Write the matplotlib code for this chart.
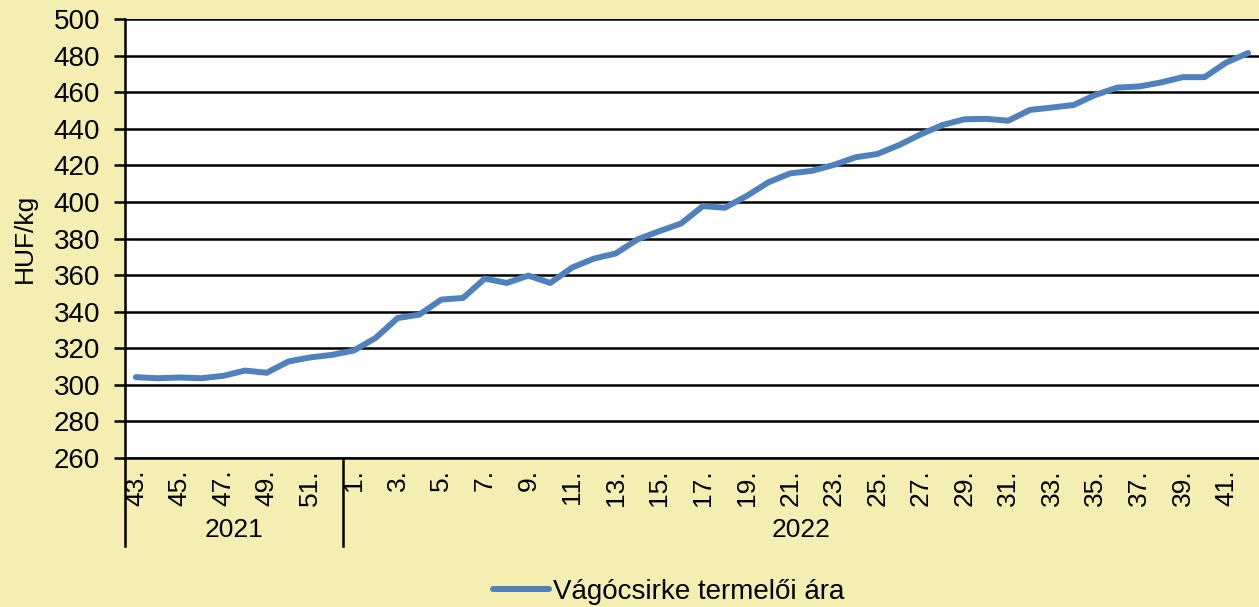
import numpy as np
import matplotlib
matplotlib.use("Agg")
import matplotlib.pyplot as plt

plt.rcParams['font.family'] = ['Liberation Sans', 'DejaVu Sans']

years = ["2021", "2022"]
weeks_2021 = list(range(43, 53))
weeks_2022 = list(range(1, 43))
price_2021 = [304.2, 303.6, 304.0, 303.6, 304.9, 307.8, 306.6, 312.8, 315.0, 316.4]
price_2022 = [318.8, 325.7, 336.5, 338.4, 346.6, 347.5, 358.1, 355.7, 359.7, 355.7,
              364.1, 369.0, 371.8, 379.5, 384.0, 388.2, 397.7, 396.8, 403.2, 410.7,
              415.6, 417.0, 420.2, 424.4, 426.2, 431.1, 437.0, 442.1, 445.2, 445.4,
              444.4, 450.3, 451.6, 453.0, 458.5, 462.5, 463.1, 465.3, 468.2, 468.2,
              476.2, 481.4]
series_name = "Vágócsirke termelői ára"
y_label = "HUF/kg"

bg = '#F5EEB3'
blue = '#4F81BD'

weeks = weeks_2021 + weeks_2022
prices = price_2021 + price_2022
x = np.arange(len(weeks))

fig = plt.figure(figsize=(12.59, 6.07), dpi=100, facecolor=bg)
ax = fig.add_axes([125 / 1259, 1 - 458 / 607, 1 - 125 / 1259, (458 - 19) / 607])
ax.set_facecolor('white')

ax.plot(x, prices, color=blue, lw=4.3, solid_capstyle='round', label=series_name, zorder=3)

ax.set_ylim(260, 500)
ax.set_yticks(np.arange(260, 501, 20))
ax.set_xlim(-0.5, len(weeks) - 0.5)
ax.yaxis.grid(True, color='black', lw=1.8)
ax.set_axisbelow(True)

tick_idx = [i for i, w in enumerate(weeks) if w % 2 == 1]
ax.set_xticks(tick_idx)
ax.set_xticklabels([f"{weeks[i]}." for i in tick_idx], rotation=90, fontsize=19)
ax.tick_params(axis='x', length=0, pad=8)
ax.tick_params(axis='y', length=8, width=1.8, pad=10, labelsize=20, direction='out')

for s in ['top', 'right']:
    ax.spines[s].set_visible(False)
ax.spines['left'].set_linewidth(1.8)
ax.spines['bottom'].set_linewidth(1.8)

ax.set_ylabel(y_label, fontsize=19, labelpad=12)

# year groups under the week labels
trans = ax.get_xaxis_transform()
depth = (546 - 458) / 439
start = 0
for yr, n in zip(years, [len(weeks_2021), len(weeks_2022)]):
    ax.plot([start - 0.5, start - 0.5], [0, -depth], color='black', lw=1.8,
            transform=trans, clip_on=False)
    ax.text(start + (n - 1) / 2, -(530 - 458) / 439, yr, transform=trans,
            ha='center', va='center', fontsize=19)
    start += n

fig.legend(loc='center', bbox_to_anchor=(669 / 1259, 1 - 592 / 607), frameon=False,
           fontsize=20, handlelength=2.0, handletextpad=0.15)

fig.savefig('out.png', dpi=100, facecolor=bg)
